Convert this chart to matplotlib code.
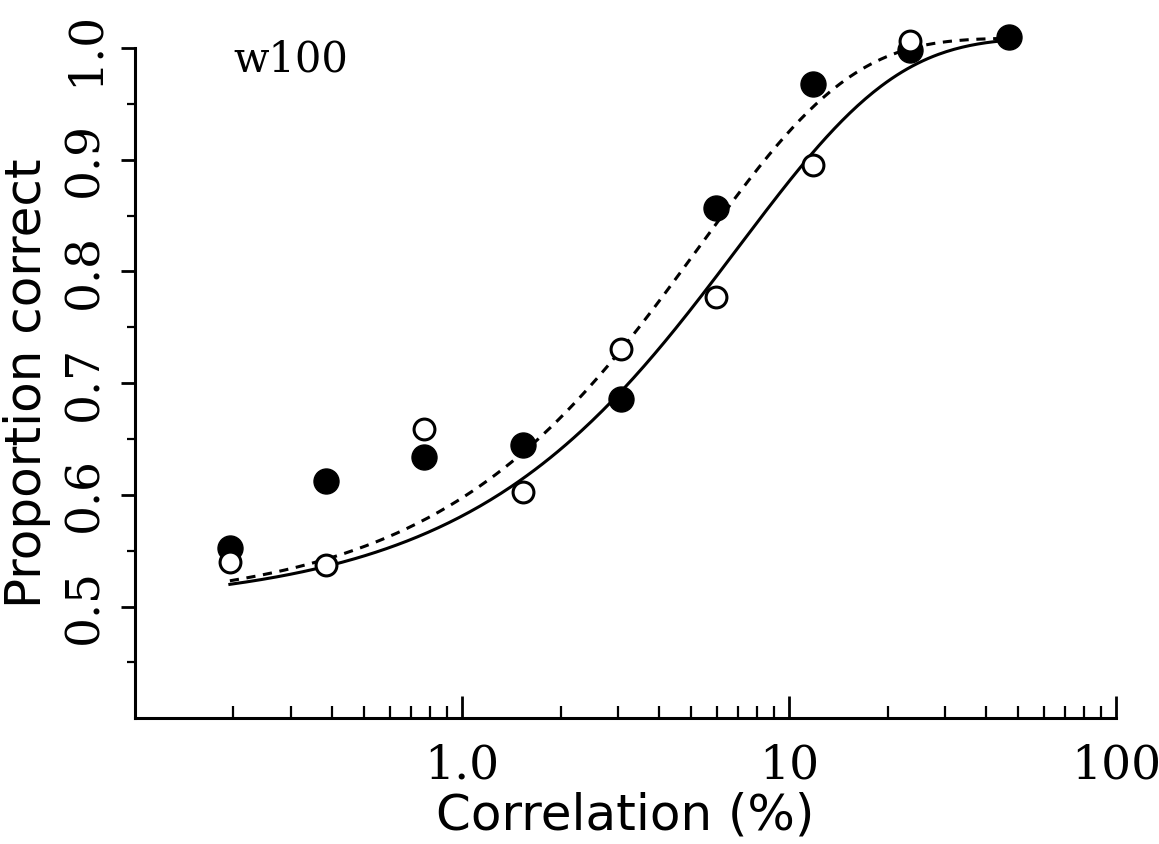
import numpy as np
import matplotlib
matplotlib.use("Agg")
import matplotlib.pyplot as plt

corr = [0.195, 0.385, 0.765, 1.54, 3.06, 5.98, 11.8, 23.4, 47.0]
filled = [0.552, 0.612, 0.634, 0.645, 0.686, 0.857, 0.968, 0.998, 1.01]
open_x = [0.195, 0.385, 0.765, 1.54, 3.06, 5.98, 11.8, 23.4]
open_y = [0.540, 0.537, 0.659, 0.603, 0.731, 0.777, 0.895, 1.006]
# Weibull fit parameters (alpha, beta, upper asymptote)
solid_fit = [7.0, 0.9, 1.009]
dashed_fit = [5.3, 0.93, 1.009]

fig = plt.figure(figsize=(11.59, 8.44), dpi=100)
ax = fig.add_axes([0.1165, 0.149, 0.8465, 0.794])
xs = np.logspace(np.log10(0.195), np.log10(47), 300)
def weib(p):
    a, b, top = p
    return 0.5 + (top - 0.5) * (1 - np.exp(-(xs / a) ** b))
ax.plot(xs, weib(solid_fit), 'k-', lw=2.2, clip_on=False)
ax.plot(xs, weib(dashed_fit), 'k--', lw=2.2, dashes=(3, 2.5), clip_on=False)
ax.plot(corr, filled, 'o', ms=18, mfc='black', mec='black', clip_on=False)
ax.plot(open_x, open_y, 'o', ms=15, mfc='white', mec='black', mew=2.2, clip_on=False)

ax.set_xscale('log')
ax.set_xlim(0.1, 100)
ax.set_ylim(0.4, 1.0)
for s in ['top', 'right']:
    ax.spines[s].set_visible(False)
for s in ['left', 'bottom']:
    ax.spines[s].set_linewidth(2.2)
ax.set_xticks([1, 10, 100])
ax.set_xticklabels(['1.0', '10', '100'], family='DejaVu Serif', fontsize=34)
ax.tick_params(axis='x', which='major', direction='in', length=16, width=2, pad=18)
ax.tick_params(axis='x', which='minor', direction='in', length=9, width=1.6)
ax.set_yticks([0.5, 0.6, 0.7, 0.8, 0.9, 1.0])
ax.set_yticks([0.45, 0.55, 0.65, 0.75, 0.85, 0.95], minor=True)
ax.set_yticklabels(['0.5', '0.6', '0.7', '0.8', '0.9', '1.0'], family='DejaVu Serif',
                   fontsize=34, rotation=90, va='center')
ax.tick_params(axis='y', which='major', direction='out', length=10, width=2, pad=10)
ax.tick_params(axis='y', which='minor', direction='out', length=6, width=1.6)
ax.set_xlabel('Correlation (%)', fontsize=36, labelpad=2)
ax.set_ylabel('Proportion correct', fontsize=36, labelpad=8)
ax.text(0.2, 0.99, 'w100', family='DejaVu Serif', fontsize=30, ha='left', va='center')
fig.savefig('out.png', dpi=100)
